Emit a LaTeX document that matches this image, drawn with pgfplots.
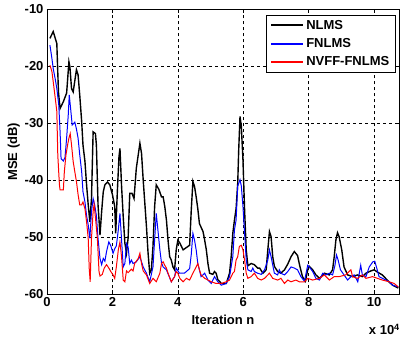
\documentclass[border=0pt]{standalone}
\usepackage{fontspec}
\setmainfont{Liberation Sans}
\usepackage{pgfplots}
\pgfplotsset{compat=1.18}

\newcommand{\mfont}{\fontsize{13bp}{15bp}\selectfont\bfseries}

\begin{document}
\begin{tikzpicture}
\begin{axis}[
  scale only axis, width=352bp, height=285bp,
  xmin=0, xmax=10.76, ymin=-60, ymax=-10,
  xtick={0,2,...,10}, ytick={-60,-50,...,-10},
  yticklabels={-60,-50,-40,-30,-20,-10},
  tick align=inside, major tick length=4bp,
  grid=major,
  major grid style={black, line width=0.5pt, dash pattern=on 3bp off 3bp},
  axis line style={black, line width=0.8pt},
  tick style={black, line width=0.6pt},
  /pgf/number format/assume math mode=true,
  ticklabel style={font=\mfont},
  xlabel={Iteration n}, ylabel={MSE (dB)},
  label style={font=\mfont},
  xlabel style={yshift=-1bp},
  ylabel style={yshift=-2bp},
  legend style={at={(rel axis cs:0.99,0.98)}, anchor=north east,
    font=\mfont, legend cell align=left,
    inner xsep=4bp, inner ysep=3bp, row sep=3.5bp},
  legend image code/.code={\draw[#1, line width=2bp] (0bp,0bp) -- (32bp,0bp);},
]
\addplot[draw=black, line width=1.4pt] coordinates {
(0.09,-15.1)(0.19,-13.9)(0.3,-16.0)(0.35,-24.5)(0.4,-27.4)(0.5,-26.2)(0.6,-24.7)
(0.67,-19.2)(0.70,-20.1)(0.75,-23.9)(0.8,-24.5)(0.9,-20.6)(0.95,-21.5)(1.0,-25)
(1.06,-29.7)(1.1,-33.8)(1.16,-36.7)(1.21,-40.8)(1.26,-44.3)(1.31,-47.3)(1.36,-43.2)
(1.41,-31.5)(1.48,-31.8)(1.51,-33.8)(1.56,-44.3)(1.62,-49.6)(1.67,-45.5)(1.72,-42)
(1.77,-40.8)(1.85,-40.3)(1.92,-40.8)(2.0,-42.5)(2.07,-44.6)(2.1,-49.3)(2.15,-42)
(2.2,-35.9)(2.23,-34.4)(2.28,-41.1)(2.33,-46.4)(2.38,-51)(2.43,-52.8)(2.48,-50.1)
(2.53,-42.3)(2.6,-42.3)(2.66,-43.2)(2.73,-37.9)(2.84,-33.5)(2.89,-35.3)(2.94,-39.9)
(2.99,-44)(3.04,-48.1)(3.09,-52.8)(3.14,-56.3)(3.19,-55.7)(3.24,-51.6)(3.29,-44.6)
(3.34,-40.8)(3.42,-41.6)(3.5,-42.9)(3.55,-42.9)(3.6,-44.6)(3.65,-46.9)(3.7,-50.5)
(3.75,-53.4)(3.8,-54)(3.85,-55.2)(3.9,-55.7)(3.95,-52.2)(4.0,-50.5)(4.06,-51)
(4.16,-52.2)(4.26,-51.8)(4.36,-51.4)(4.41,-45.2)(4.46,-40.2)(4.51,-41.1)(4.56,-42.9)
(4.61,-45)(4.66,-47.6)(4.77,-49)(4.82,-50.5)(4.87,-52.2)(4.92,-54.6)(4.97,-56.3)
(5.07,-56.5)(5.12,-56)(5.17,-56.3)(5.22,-57.4)(5.33,-58.1)(5.48,-58.1)(5.58,-56.3)
(5.63,-53.4)(5.68,-49.3)(5.73,-47)(5.78,-45)(5.83,-40.5)(5.86,-34.7)(5.9,-28.8)
(5.94,-30.5)(5.99,-36.4)(6.04,-45.2)(6.09,-52.2)(6.14,-55)(6.24,-54.6)(6.34,-54.8)
(6.44,-55.4)(6.5,-55.4)(6.6,-56.3)(6.7,-55.7)(6.75,-52.2)(6.8,-49)(6.85,-49.9)
(6.9,-53.4)(6.95,-55.1)(7.05,-56)(7.15,-56.3)(7.26,-55.7)(7.36,-54.7)(7.46,-53.4)
(7.56,-52.5)(7.66,-53.2)(7.71,-54.6)(7.81,-56.9)(7.9,-57.7)(7.97,-55.7)(8.02,-55.1)
(8.12,-55.7)(8.22,-56.6)(8.33,-57.2)(8.48,-56.3)(8.63,-56.6)(8.73,-55.7)(8.78,-53.4)
(8.83,-50.5)(8.88,-49.2)(8.93,-49.9)(9.01,-52.2)(9.08,-55.2)(9.19,-56.6)(9.34,-56.9)
(9.49,-56.6)(9.64,-56.9)(9.75,-56.3)(9.9,-55.9)(10.0,-55.7)(10.1,-56.1)(10.25,-56.6)
(10.4,-57.5)(10.56,-58.4)(10.74,-58.9)
};
\addlegendentry{NLMS}
\addplot[draw=blue, line width=1pt] coordinates {
(0.09,-16.3)(0.15,-18.6)(0.19,-20.4)(0.26,-22.5)(0.3,-23.9)(0.36,-26.8)(0.4,-31.5)
(0.43,-36.2)(0.5,-36.6)(0.55,-36)(0.6,-32.6)(0.65,-28.5)(0.68,-25)(0.72,-27.3)
(0.77,-30.3)(0.85,-29.8)(0.9,-31)(0.95,-32.6)(1.0,-35.5)(1.06,-38.5)(1.1,-42)
(1.16,-43.8)(1.21,-46.2)(1.26,-47.8)(1.31,-50.2)(1.36,-45.5)(1.41,-43.2)(1.46,-44.4)
(1.51,-46.2)(1.56,-50.2)(1.62,-53.7)(1.67,-54.8)(1.72,-53.7)(1.77,-54.2)(1.82,-52.5)
(1.89,-50.8)(1.95,-51.5)(2.02,-52.8)(2.07,-52)(2.12,-51.5)(2.18,-48.7)(2.23,-45.8)
(2.28,-50.5)(2.33,-55.2)(2.38,-54.6)(2.43,-51.1)(2.48,-51.7)(2.53,-54.6)(2.58,-54)
(2.63,-54.6)(2.73,-54.3)(2.84,-53.4)(2.94,-55.2)(3.04,-56.3)(3.14,-57.8)(3.24,-55.2)
(3.29,-50.5)(3.34,-45.8)(3.39,-48.7)(3.45,-52.2)(3.5,-54.5)(3.55,-55.2)(3.65,-55.7)
(3.8,-57.8)(3.9,-56.9)(3.95,-55.4)(4.05,-56.3)(4.2,-56.3)(4.36,-55.5)(4.41,-53)
(4.46,-49.3)(4.51,-50.5)(4.56,-52.2)(4.61,-54.6)(4.71,-56.9)(4.82,-56.3)(4.92,-57.5)
(5.02,-58.1)(5.12,-56.9)(5.22,-57.8)(5.33,-58.4)(5.48,-58.1)(5.58,-56.9)(5.68,-53.4)
(5.73,-48.7)(5.78,-47)(5.83,-41)(5.9,-39.9)(5.94,-41)(5.99,-44.6)(6.04,-49.3)
(6.09,-54)(6.14,-55.7)(6.24,-56)(6.29,-55.4)(6.34,-56)(6.44,-56.3)(6.55,-56.5)
(6.65,-55.7)(6.75,-54)(6.8,-52.2)(6.85,-53.4)(6.95,-56.3)(7.05,-56.6)(7.1,-55.7)
(7.15,-56.3)(7.26,-56.6)(7.36,-56)(7.46,-55.2)(7.56,-55.4)(7.66,-55.7)(7.76,-56.9)
(7.87,-57.7)(7.97,-54.9)(8.02,-55.2)(8.12,-56)(8.22,-57.2)(8.33,-57.5)(8.43,-56.3)
(8.53,-56.6)(8.63,-56.3)(8.73,-56.6)(8.8,-55)(8.85,-53.1)(8.9,-54)(8.97,-55.7)
(9.08,-56.6)(9.19,-57.5)(9.29,-56.9)(9.39,-56.6)(9.5,-57.8)(9.59,-54.9)(9.64,-56.6)
(9.75,-56.9)(9.85,-55.2)(9.96,-54.3)(10.02,-54.2)(10.07,-55.2)(10.15,-56.9)(10.25,-57.2)
(10.36,-57.5)(10.46,-57.8)(10.56,-58.4)(10.74,-58.7)
};
\addlegendentry{FNLMS}
\addplot[draw=red, line width=1pt] coordinates {
(0.09,-19.8)(0.15,-20.9)(0.19,-22.7)(0.24,-25)(0.3,-27.9)(0.33,-35.6)(0.38,-40.8)
(0.4,-41.7)(0.5,-41.7)(0.53,-38.5)(0.58,-35.5)(0.63,-33.8)(0.67,-32.6)(0.71,-31.8)
(0.75,-33.8)(0.8,-36.7)(0.85,-38.5)(0.9,-40.2)(0.95,-42.5)(1.0,-44.3)(1.06,-44.3)
(1.1,-43.8)(1.16,-45)(1.21,-47.3)(1.26,-50.2)(1.29,-55.4)(1.32,-57.8)(1.36,-50.2)
(1.41,-45.5)(1.44,-44.2)(1.49,-47.1)(1.54,-50.2)(1.59,-56)(1.62,-56.8)(1.69,-56.5)
(1.75,-55.4)(1.82,-54.8)(1.89,-55.4)(1.95,-56)(2.02,-56.6)(2.07,-57.2)(2.12,-55.2)
(2.18,-52.2)(2.23,-50.8)(2.28,-53.5)(2.33,-57.5)(2.38,-57.8)(2.43,-55.9)(2.48,-56.2)
(2.53,-55.9)(2.58,-55.6)(2.63,-55.9)(2.68,-54.6)(2.79,-53.7)(2.84,-52.8)(2.89,-54.6)
(2.94,-55.9)(3.04,-56.6)(3.14,-58.1)(3.24,-57.2)(3.34,-57.8)(3.45,-56.3)(3.5,-54.6)
(3.55,-54.3)(3.6,-54.9)(3.65,-55.4)(3.7,-56.3)(3.8,-57.8)(3.9,-56.9)(3.95,-56)
(4.0,-56.3)(4.06,-57.2)(4.16,-57.8)(4.26,-57.2)(4.36,-57.5)(4.46,-56.3)(4.56,-55.2)
(4.61,-54.6)(4.66,-55.7)(4.71,-56.6)(4.82,-57.2)(4.92,-57.5)(5.02,-57.8)(5.17,-58.1)
(5.33,-58.1)(5.48,-57.8)(5.58,-57.5)(5.68,-56.3)(5.73,-56)(5.78,-54)(5.83,-53.4)
(5.88,-51.6)(5.94,-51.4)(5.99,-52.2)(6.04,-54)(6.09,-56.3)(6.14,-57.2)(6.24,-56.9)
(6.34,-56.3)(6.44,-57.2)(6.55,-57.5)(6.65,-57.2)(6.8,-56.3)(6.9,-57.2)(7.05,-57.5)
(7.15,-57.2)(7.26,-58.1)(7.36,-57.5)(7.46,-57.8)(7.61,-57.5)(7.71,-57.8)(7.87,-57.8)
(7.97,-57.2)(8.12,-57.5)(8.33,-57.2)(8.48,-56.6)(8.63,-57.5)(8.78,-56.9)(8.93,-56.9)
(9.13,-56.6)(9.29,-55.7)(9.34,-56.9)(9.49,-57.2)(9.64,-56.6)(9.75,-57.2)(9.95,-56.9)
(10.1,-57.2)(10.25,-57.5)(10.46,-57.8)(10.61,-58.1)(10.74,-58.7)
};
\addlegendentry{NVFF-FNLMS}
\end{axis}
\node[anchor=base east, font=\mfont, inner sep=0pt] at (353bp,-40.5bp) {x 10\textsuperscript{4}};
\pgfresetboundingbox
\path[use as bounding box] (-47bp,-51.7bp) rectangle (360bp,294.3bp);
\end{tikzpicture}
\end{document}
